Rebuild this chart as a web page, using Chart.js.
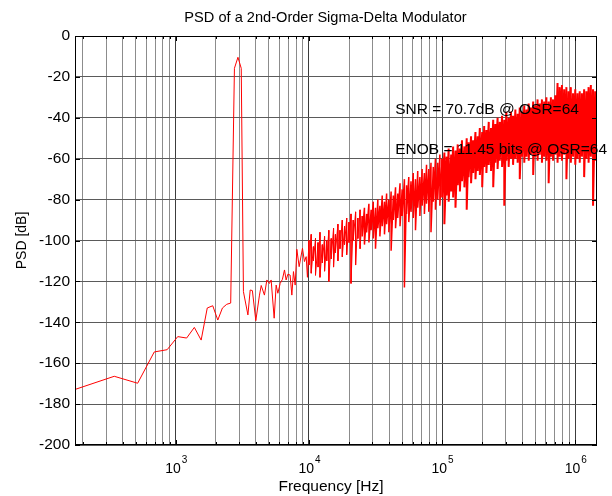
<!DOCTYPE html>
<html>
<head>
<meta charset="utf-8">
<title>PSD of a 2nd-Order Sigma-Delta Modulator</title>
<script src="https://cdn.jsdelivr.net/npm/chart.js@4.4.1/dist/chart.umd.min.js"></script>
<style>
  body { margin: 0; background: #fff; }
  #wrap { width: 612px; height: 496px; }
</style>
</head>
<body>
<div id="wrap"><canvas id="psd" width="612" height="496"></canvas></div>
<script>
// spectrum up to 10 kHz, read point by point (kHz / dB)
const lowKhz = [
  0.172, 0.345, 0.517, 0.689, 0.861, 1.034, 1.206, 1.378, 1.550, 1.723,
  1.895, 2.067, 2.240, 2.412, 2.584, 2.756, 2.929, 3.101,
  3.22, 3.48, 3.62, 3.76, 3.99, 4.25, 4.38, 4.63, 4.83, 5.05,
  5.20, 5.48, 5.67, 5.84, 6.08, 6.32, 6.55, 6.74, 6.94, 7.22,
  7.44, 7.65, 7.88, 8.11, 8.44, 8.94, 9.25, 9.53, 9.74
];
const lowDb = [
  -173, -166.4, -169.8, -154.5, -153.4, -147, -147.7, -142.5, -148.7, -133,
  -131.9, -138.9, -133, -131.2, -130.6, -15.8, -10.4, -15.8,
  -125, -136.4, -124.2, -124.5, -139.2, -126.7, -122, -126.7, -119.3, -121,
  -119.3, -138, -121.8, -125.8, -121, -119, -114.4, -119.3, -116.5, -116.9,
  -126.7, -115.2, -121.8, -104.3, -112.8, -103.8, -110.3, -107.9, -118
];

// above 10 kHz the trace turns into a dense band:
// each sample keeps the top and the bottom reading at that frequency
const bandKhz = [
  10.0, 10.4, 10.8, 11.2, 11.7, 12.1, 12.6, 13.1, 13.6, 14.1,
  14.7, 15.3, 15.8, 16.5, 17.1, 17.8, 18.5, 19.2, 20.0, 20.7,
  21.5, 22.4, 23.3, 24.2, 25.1, 26.1, 27.1, 28.2, 29.3, 30.4,
  31.6, 32.9, 34.1, 35.5, 36.9, 38.3, 39.8, 41.4, 43.0, 44.7,
  46.4, 48.3, 50.1, 52.1, 54.1, 56.2, 58.4, 60.7, 63.1, 65.6,
  68.1, 70.8, 73.6, 76.4, 79.4, 82.5, 85.8, 89.1, 92.6, 96.2,
  100, 104, 108, 112, 117, 121, 126, 131, 136, 141,
  147, 153, 158, 165, 171, 178, 185, 192, 200, 207,
  215, 224, 233, 242, 251, 261, 271, 282, 293, 304,
  316, 329, 341, 355, 369, 383, 398, 414, 430, 447,
  464, 483, 501, 521, 541, 562, 584, 607, 631, 656,
  681, 708, 736, 764, 794, 825, 858, 891, 926, 962,
  1000, 1039, 1080, 1122, 1166, 1212, 1259, 1309, 1360, 1411
];
const bandTop = [
  -100, -97, -103, -99, -101, -96, -102, -98, -100, -95,
  -99, -94, -97, -92, -95, -90, -93, -89, -91, -87,
  -90, -86, -89, -85, -88, -84, -87, -82, -85, -81,
  -84, -80, -83, -78, -81, -77, -80, -76, -78, -74,
  -77, -72, -75, -70, -73, -69, -71, -67, -70, -66,
  -69, -65, -67, -63, -65, -62, -64, -60, -62, -58,
  -60, -57, -59, -55, -58, -54, -56, -53, -55, -51,
  -54, -50, -52, -49, -51, -47, -49, -45, -47, -44,
  -46, -42, -45, -41, -43, -40, -42, -39, -41, -37,
  -40, -37, -39, -36, -38, -35, -37, -34, -36, -33,
  -35, -32, -34, -31, -33, -31, -32, -30, -32, -30,
  -31, -29, -23, -25, -24, -26, -25, -27, -25, -28,
  -26, -28, -27, -28, -26, -27, -25, -24, -26, -27
];
const bandBottom = [
  -112, -116, -110, -117, -113, -118, -111, -115, -110, -120,
  -109, -113, -106, -110, -104, -108, -102, -107, -101, -121,
  -100, -112, -99, -104, -98, -102, -96, -101, -95, -99,
  -104, -94, -98, -93, -97, -92, -96, -105, -90, -94,
  -89, -93, -88, -123, -87, -91, -86, -89, -95, -84,
  -88, -83, -87, -82, -86, -96, -81, -85, -80, -83,
  -79, -92, -78, -81, -76, -79, -84, -73, -76, -71,
  -74, -85, -69, -72, -67, -70, -66, -68, -74, -64,
  -67, -63, -66, -74, -62, -65, -61, -64, -83, -61,
  -64, -60, -63, -60, -62, -70, -59, -62, -59, -61,
  -58, -68, -59, -61, -58, -62, -59, -61, -72, -59,
  -61, -58, -62, -59, -61, -58, -70, -60, -62, -59,
  -63, -60, -62, -59, -69, -60, -62, -59, -83, -61
];

const yTicks = [-200, -180, -160, -140, -120, -100, -80, -60, -40, -20, 0];
const xLabelHz = [1e3, 1e4, 1e5, 1e6];

const notes = [
  { text: 'SNR = 70.7dB @ OSR=64', khz: 44.4, db: -36.2 },
  { text: 'ENOB = 11.45 bits @ OSR=64', khz: 44.4, db: -55.4 }
];
const titleText = 'PSD of a 2nd-Order Sigma-Delta Modulator';
const xTitleText = 'Frequency [Hz]';

const FONT = '"Liberation Sans", Arial, Helvetica, sans-serif';

// grid at 1..9 x 10^n like matlab
const gridHz = [];
[100, 1e3, 1e4, 1e5, 1e6].forEach(d => {
  for (let m = 1; m <= 9; m++) {
    if (m * d >= 175 && m * d <= 1.456e6) gridHz.push(m * d);
  }
});

function isDecade(v) {
  return Math.abs(Math.log10(v) - Math.round(Math.log10(v))) < 1e-9;
}

const points = [];
lowKhz.forEach((f, i) => points.push({ x: f * 1000, y: lowDb[i] }));
bandKhz.forEach((f, i) => {
  points.push({ x: f * 1000, y: bandTop[i] });
  points.push({ x: f * 1000, y: bandBottom[i] });
});

// box, inward ticks, 10^n labels, titles and the two notes
const matlabAxes = {
  id: 'matlabAxes',
  afterDatasetsDraw(chart) {
    const { ctx, chartArea: a, scales: { x, y } } = chart;
    ctx.save();
    ctx.strokeStyle = '#000';
    ctx.lineWidth = 1;
    ctx.beginPath();
    x.ticks.forEach(t => {
      const px = Math.round(x.getPixelForValue(t.value)) + 0.5;
      const len = isDecade(t.value) ? 5 : 3;
      ctx.moveTo(px, a.bottom); ctx.lineTo(px, a.bottom - len);
      ctx.moveTo(px, a.top); ctx.lineTo(px, a.top + len);
    });
    y.ticks.forEach(t => {
      const py = Math.round(y.getPixelForValue(t.value)) + 0.5;
      ctx.moveTo(a.left, py); ctx.lineTo(a.left + 5, py);
      ctx.moveTo(a.right, py); ctx.lineTo(a.right - 5, py);
    });
    ctx.stroke();
    ctx.strokeRect(Math.round(a.left) + 0.5, Math.round(a.top) + 0.5,
      Math.round(a.right - a.left) - 1, Math.round(a.bottom - a.top) - 1);

    ctx.fillStyle = '#000';
    ctx.textBaseline = 'alphabetic';
    ctx.textAlign = 'left';
    xLabelHz.forEach(v => {
      const px = x.getPixelForValue(v);
      const exp = String(Math.round(Math.log10(v)));
      ctx.font = '14px ' + FONT;
      const wBase = ctx.measureText('10').width;
      ctx.font = '10px ' + FONT;
      const wExp = ctx.measureText(exp).width;
      const left = px - (wBase + wExp) / 2;
      ctx.font = '14px ' + FONT;
      ctx.fillText('10', left, 473);
      ctx.font = '10px ' + FONT;
      ctx.fillText(exp, left + wBase + 1, 463);
    });

    ctx.textBaseline = 'middle';
    ctx.textAlign = 'center';
    ctx.font = '14.6px ' + FONT;
    ctx.fillText(titleText, 325.5, 18);
    ctx.font = '15.5px ' + FONT;
    ctx.fillText(xTitleText, 331, 487);

    ctx.textAlign = 'left';
    ctx.font = '15.5px ' + FONT;
    notes.forEach(n => {
      ctx.fillText(n.text, x.getPixelForValue(n.khz * 1000), y.getPixelForValue(n.db));
    });
    ctx.restore();
  }
};

new Chart(document.getElementById('psd'), {
  type: 'line',
  data: {
    datasets: [{
      data: points,
      borderColor: '#ff0000',
      borderWidth: 1,
      // the band gets solid towards nyquist
      segment: {
        borderWidth: c => (c.p0.parsed.x >= 100000 ? 2 : c.p0.parsed.x >= 25000 ? 1.5 : 1)
      },
      pointRadius: 0,
      tension: 0,
      fill: false
    }]
  },
  options: {
    responsive: false,
    animation: false,
    layout: { padding: { left: 0, right: 15, top: 36, bottom: 0 } },
    plugins: {
      legend: { display: false },
      tooltip: { enabled: false },
      title: { display: false }
    },
    scales: {
      x: {
        type: 'logarithmic',
        min: 175,
        max: 1.456e6,
        afterBuildTicks: s => { s.ticks = gridHz.map(v => ({ value: v })); },
        afterFit: s => { s.height = 51; },
        ticks: { display: false },
        border: { display: false },
        grid: {
          drawTicks: false,
          color: c => (c.tick && isDecade(c.tick.value) ? '#3c3c3c' : '#8c8c8c')
        }
      },
      y: {
        min: -200,
        max: 0,
        afterBuildTicks: s => { s.ticks = yTicks.map(v => ({ value: v })); },
        afterFit: s => { s.width = 75; },
        ticks: { color: '#000', font: { family: FONT, size: 15.5 }, padding: 5 },
        border: { display: false },
        grid: { drawTicks: false, color: '#5a5a5a' },
        title: {
          display: true,
          text: 'PSD [dB]',
          color: '#000',
          font: { family: FONT, size: 14 },
          padding: { top: 14, bottom: 0 }
        }
      }
    }
  },
  plugins: [matlabAxes]
});
</script>
</body>
</html>
